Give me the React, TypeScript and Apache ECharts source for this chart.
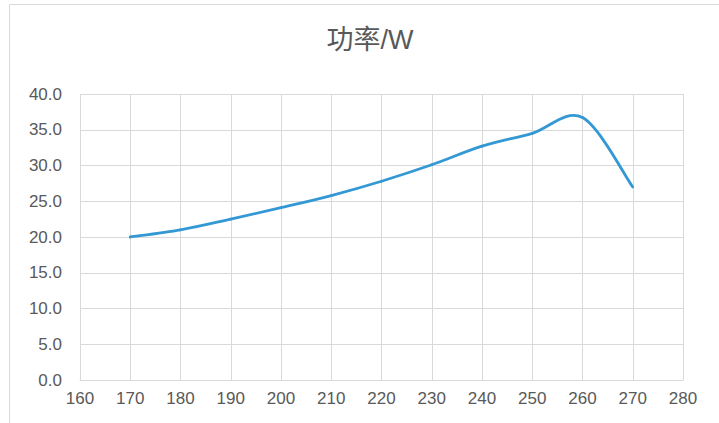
import React, { useEffect, useRef } from "react";
import * as echarts from "echarts";

const titleText = "功率/W";
const xValues = [170, 180, 190, 200, 210, 220, 230, 240, 250, 260, 270];
const powerValues = [20.0, 21.0, 22.5, 24.1, 25.8, 27.8, 30.1, 32.7, 34.5, 36.7, 27.0];
const xAxisRange = [160, 280, 10];
const yAxisRange = [0, 40, 5];

export default function App() {
  const ref = useRef<HTMLDivElement>(null);
  useEffect(() => {
    if (!ref.current) return;
    const chart = echarts.init(ref.current, null, { renderer: "svg" });
    const data = xValues.map((x, i) => [x, powerValues[i]]);
    const n = data.length;
    chart.setOption({
      animation: false,
      backgroundColor: "#ffffff",
      title: {
        text: titleText,
        left: 370,
        textAlign: "center",
        top: 26,
        padding: 0,
        textStyle: {
          fontFamily: "'Liberation Sans', 'Noto Sans CJK SC', sans-serif",
          fontSize: 27,
          fontWeight: "normal",
          color: "#595959",
        },
      },
      graphic: [
        {
          type: "rect",
          shape: { x: 9.5, y: 4.5, width: 800, height: 600 },
          style: { fill: "none", stroke: "#d9d9d9", lineWidth: 1 },
          silent: true,
          z: -1,
        },
      ],
      grid: { left: 80, right: 36, top: 94, bottom: 43, containLabel: false },
      xAxis: {
        type: "value",
        min: xAxisRange[0],
        max: xAxisRange[1],
        interval: xAxisRange[2],
        axisLine: { show: true, lineStyle: { color: "#d9d9d9", width: 1 } },
        axisTick: { show: false },
        splitLine: { show: true, lineStyle: { color: "#d9d9d9", width: 1 } },
        axisLabel: {
          margin: 10,
          fontSize: 17,
          color: "#595959",
          fontFamily: "'Liberation Sans', sans-serif",
        },
      },
      yAxis: {
        type: "value",
        min: yAxisRange[0],
        max: yAxisRange[1],
        interval: yAxisRange[2],
        axisLine: { show: false },
        axisTick: { show: false },
        splitLine: { show: true, lineStyle: { color: "#d9d9d9", width: 1 } },
        axisLabel: {
          margin: 18,
          fontSize: 17,
          color: "#595959",
          fontFamily: "'Liberation Sans', sans-serif",
          formatter: (v: number) => v.toFixed(1),
        },
      },
      series: [
        {
          type: "custom",
          name: titleText,
          data,
          encode: { x: 0, y: 1 },
          renderItem: (params: any, api: any) => {
            const i = params.dataIndex;
            if (i >= n - 1) return { type: "group", children: [] };
            const c = (j: number) => {
              const k = Math.max(0, Math.min(n - 1, j));
              return api.coord(data[k]);
            };
            const p0 = c(i - 1);
            const p1 = c(i);
            const p2 = c(i + 1);
            const p3 = c(i + 2);
            return {
              type: "bezierCurve",
              shape: {
                x1: p1[0],
                y1: p1[1],
                cpx1: p1[0] + (p2[0] - p0[0]) / 6,
                cpy1: p1[1] + (p2[1] - p0[1]) / 6,
                cpx2: p2[0] - (p3[0] - p1[0]) / 6,
                cpy2: p2[1] - (p3[1] - p1[1]) / 6,
                x2: p2[0],
                y2: p2[1],
              },
              style: {
                fill: "none",
                stroke: "#3498d4",
                lineWidth: 2.8,
                lineCap: "round",
              },
            };
          },
        },
      ],
    });
    return () => chart.dispose();
  }, []);
  return (
    <div
      ref={ref}
      style={{ position: "fixed", left: 0, top: 0, width: 719, height: 423 }}
    />
  );
}
